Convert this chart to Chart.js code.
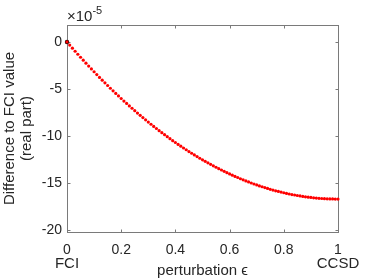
<!DOCTYPE html>
<html>
<head>
<meta charset="utf-8">
<script src="https://cdn.jsdelivr.net/npm/chart.js@4/dist/chart.umd.min.js"></script>
<style>
  html, body { margin: 0; padding: 0; background: #fff; }
</style>
</head>
<body>
<canvas id="chart" width="374" height="280"></canvas>
<script>
// perturbation epsilon (x) and energy difference to FCI in units of 1e-5 (y)
const epsValues = [
  0.00, 0.01, 0.02, 0.03, 0.04, 0.05, 0.06, 0.07, 0.08, 0.09,
  0.10, 0.11, 0.12, 0.13, 0.14, 0.15, 0.16, 0.17, 0.18, 0.19,
  0.20, 0.21, 0.22, 0.23, 0.24, 0.25, 0.26, 0.27, 0.28, 0.29,
  0.30, 0.31, 0.32, 0.33, 0.34, 0.35, 0.36, 0.37, 0.38, 0.39,
  0.40, 0.41, 0.42, 0.43, 0.44, 0.45, 0.46, 0.47, 0.48, 0.49,
  0.50, 0.51, 0.52, 0.53, 0.54, 0.55, 0.56, 0.57, 0.58, 0.59,
  0.60, 0.61, 0.62, 0.63, 0.64, 0.65, 0.66, 0.67, 0.68, 0.69,
  0.70, 0.71, 0.72, 0.73, 0.74, 0.75, 0.76, 0.77, 0.78, 0.79,
  0.80, 0.81, 0.82, 0.83, 0.84, 0.85, 0.86, 0.87, 0.88, 0.89,
  0.90, 0.91, 0.92, 0.93, 0.94, 0.95, 0.96, 0.97, 0.98, 0.99,
  1.00
];
const diffValues = [
  0.00, -0.33, -0.66, -0.99, -1.31, -1.63, -1.94, -2.26, -2.57, -2.87,
  -3.17, -3.47, -3.77, -4.06, -4.35, -4.63, -4.92, -5.20, -5.47, -5.74,
  -6.01, -6.28, -6.54, -6.80, -7.05, -7.31, -7.56, -7.80, -8.04, -8.28,
  -8.52, -8.75, -8.98, -9.20, -9.43, -9.64, -9.86, -10.07, -10.28, -10.49,
  -10.69, -10.89, -11.08, -11.27, -11.46, -11.65, -11.83, -12.01, -12.18, -12.36,
  -12.53, -12.69, -12.85, -13.01, -13.17, -13.32, -13.47, -13.61, -13.75, -13.89,
  -14.03, -14.16, -14.29, -14.41, -14.54, -14.65, -14.77, -14.88, -14.99, -15.10,
  -15.20, -15.30, -15.39, -15.48, -15.57, -15.66, -15.74, -15.82, -15.89, -15.96,
  -16.03, -16.10, -16.16, -16.22, -16.27, -16.32, -16.37, -16.42, -16.46, -16.50,
  -16.53, -16.57, -16.59, -16.62, -16.64, -16.66, -16.67, -16.69, -16.69, -16.70,
  -16.70
];
const startX = [0];
const startY = [0];
const xTicks = [0, 0.2, 0.4, 0.6, 0.8, 1];
const yTicks = [-20, -15, -10, -5, 0];
const endLabels = ['FCI', 'CCSD'];

const FONT = '"Liberation Sans", Arial, sans-serif';
const TEXT = '#262626';
const AXIS = '#7a7a7a';

const points = epsValues.map((e, i) => ({ x: e, y: diffValues[i] }));
const startPoints = startX.map((e, i) => ({ x: e, y: startY[i] }));

// box around the axes with inward tick marks on all four sides, plus the extra texts
const boxPlugin = {
  id: 'box',
  beforeDatasetsDraw(chart) {
    const { ctx, chartArea: a, scales: { x, y } } = chart;
    const l = Math.round(a.left) + 0.5, r = Math.round(a.right) + 0.5;
    const t = Math.round(a.top) + 0.5, b = Math.round(a.bottom) + 0.5;
    ctx.save();
    ctx.strokeStyle = AXIS;
    ctx.lineWidth = 1;
    ctx.strokeRect(l, t, r - l, b - t);
    ctx.beginPath();
    xTicks.forEach(v => {
      const px = Math.round(x.getPixelForValue(v)) + 0.5;
      ctx.moveTo(px, b); ctx.lineTo(px, b - 3);
      ctx.moveTo(px, t); ctx.lineTo(px, t + 3);
    });
    yTicks.forEach(v => {
      const py = Math.round(y.getPixelForValue(v)) + 0.5;
      ctx.moveTo(l, py); ctx.lineTo(l + 3, py);
      ctx.moveTo(r, py); ctx.lineTo(r - 3, py);
    });
    ctx.stroke();
    ctx.restore();
  },
  afterDraw(chart) {
    const { ctx, chartArea: a, scales: { x } } = chart;
    ctx.save();
    ctx.fillStyle = TEXT;
    ctx.textAlign = 'center';
    ctx.textBaseline = 'middle';
    ctx.font = '15px ' + FONT;
    ctx.fillText(endLabels[0], x.getPixelForValue(0), 264);
    ctx.fillText(endLabels[1], x.getPixelForValue(1), 264);
    // exponent label above the y axis
    ctx.textAlign = 'left';
    ctx.textBaseline = 'alphabetic';
    ctx.font = '15px ' + FONT;
    ctx.fillText('\u00d710', a.left, 21);
    const w = ctx.measureText('\u00d710').width;
    ctx.font = '11px ' + FONT;
    ctx.fillText('-5', a.left + w, 14);
    ctx.restore();
  }
};

new Chart(document.getElementById('chart'), {
  type: 'scatter',
  data: {
    datasets: [
      { data: points, backgroundColor: '#ff0000', borderWidth: 0, pointRadius: 1.6, clip: false },
      { data: startPoints, backgroundColor: '#000000', borderWidth: 0, pointRadius: 2.2, clip: false }
    ]
  },
  options: {
    responsive: false,
    animation: false,
    layout: { padding: { top: 25, right: 36, left: 0, bottom: 0 } },
    plugins: { legend: { display: false }, tooltip: { enabled: false } },
    scales: {
      x: {
        type: 'linear',
        min: 0,
        max: 1,
        afterBuildTicks: s => { s.ticks = xTicks.map(v => ({ value: v })); },
        afterFit: s => { s.height = 48; },
        grid: { display: false, drawTicks: false },
        border: { display: false },
        ticks: {
          color: TEXT, padding: 10, maxRotation: 0, autoSkip: false,
          font: { family: FONT, size: 14 },
          callback: v => String(v)
        },
        title: {
          display: true, text: 'perturbation \u03f5', color: TEXT,
          font: { family: FONT, size: 15 }, padding: { top: 0, bottom: 0 }
        }
      },
      y: {
        type: 'linear',
        min: -20.2,
        max: 1.8,
        afterBuildTicks: s => { s.ticks = yTicks.map(v => ({ value: v })); },
        afterFit: s => { s.width = 67; },
        grid: { display: false, drawTicks: false },
        border: { display: false },
        ticks: {
          color: TEXT, padding: 5,
          font: { family: FONT, size: 14 },
          callback: v => String(v)
        },
        title: {
          display: true, text: ['Difference to FCI value', '(real part)'], color: TEXT,
          font: { family: FONT, size: 15, lineHeight: 1.15 }, padding: { top: 1, bottom: 0 }
        }
      }
    }
  },
  plugins: [boxPlugin]
});
</script>
</body>
</html>
